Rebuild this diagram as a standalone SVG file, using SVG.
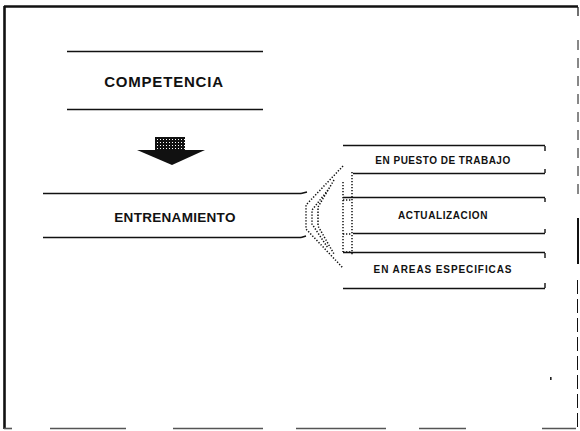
<svg xmlns="http://www.w3.org/2000/svg" width="580" height="431" viewBox="0 0 580 431">
<defs>
<pattern id="dots" width="3" height="3" patternUnits="userSpaceOnUse">
<rect width="3" height="3" fill="#111"/>
<rect x="1" y="1" width="1" height="1" fill="#fff"/>
</pattern>
<style>
.ln{stroke:#111;stroke-width:1.4;fill:none}
.fr{stroke:#111;fill:none}
.t{font-family:"Liberation Sans",Arial,sans-serif;font-weight:bold;fill:#111;text-anchor:middle}
.dot{stroke:#111;stroke-width:1.5;fill:none;stroke-dasharray:1.3 1.7}
</style>
</defs>
<rect width="580" height="431" fill="#fff"/>
<!-- frame -->
<g id="frame">
<line class="fr" x1="4" y1="6.5" x2="578" y2="6.5" stroke-width="2.4"/>
<line class="fr" x1="4.5" y1="6" x2="4.5" y2="429" stroke-width="2.6"/>
<line class="fr" x1="578" y1="7" x2="578" y2="16" stroke-width="1.2"/>
<line class="fr" x1="578" y1="40" x2="578" y2="200" stroke-width="1" stroke-dasharray="10 8"/>
<line class="fr" x1="578" y1="218" x2="578" y2="264" stroke-width="2"/>
<line class="fr" x1="577.5" y1="280" x2="577.5" y2="428" stroke-width="1" stroke-dasharray="14 5"/>
<g stroke="#555" stroke-width="1.6">
<line x1="4" y1="428.5" x2="12" y2="428.5"/>
<line x1="50" y1="428.5" x2="126" y2="428.5"/>
<line x1="173" y1="428.5" x2="263" y2="428.5"/>
<line x1="296" y1="428.5" x2="386" y2="428.5"/>
<line x1="419" y1="428.5" x2="466" y2="428.5"/>
<line x1="542" y1="428.5" x2="576" y2="428.5"/>
</g>
<rect x="550" y="377" width="1.6" height="3" fill="#222"/>
</g>
<!-- nodes -->
<g id="competencia">
<line class="ln" x1="67" y1="51.5" x2="263" y2="51.5"/>
<line class="ln" x1="67" y1="109.5" x2="263" y2="109.5"/>
<text class="t" x="164" y="87" font-size="15" letter-spacing="0.8">COMPETENCIA</text>
</g>
<g id="entrenamiento">
<line class="ln" x1="43" y1="193.5" x2="301" y2="193.5"/>
<line class="ln" x1="301" y1="193.5" x2="307" y2="192"/>
<line class="ln" x1="43" y1="237.5" x2="301" y2="237.5"/>
<line class="ln" x1="301" y1="237.5" x2="306" y2="236"/>
<text class="t" x="175" y="222" font-size="13.5" letter-spacing="0.3">ENTRENAMIENTO</text>
</g>
<g id="puesto">
<line class="ln" x1="343" y1="145.5" x2="545" y2="145.5"/>
<line class="ln" x1="353" y1="173.5" x2="545" y2="173.5"/>
<line class="ln" x1="545" y1="146" x2="545" y2="151"/>
<line class="ln" x1="545" y1="169" x2="545" y2="173"/>
<text class="t" x="443" y="164" font-size="10" letter-spacing="0.5">EN PUESTO DE TRABAJO</text>
</g>
<g id="actualizacion">
<line class="ln" x1="343" y1="197.5" x2="545" y2="197.5"/>
<line class="ln" x1="353" y1="233.5" x2="545" y2="233.5"/>
<line class="ln" x1="545" y1="198" x2="545" y2="202"/>
<line class="ln" x1="545" y1="229" x2="545" y2="233"/>
<text class="t" x="443" y="219" font-size="10" letter-spacing="0.6">ACTUALIZACION</text>
</g>
<g id="areas">
<line class="ln" x1="343" y1="252.5" x2="545" y2="252.5"/>
<line class="ln" x1="343" y1="288.5" x2="545" y2="288.5"/>
<line class="ln" x1="545" y1="253" x2="545" y2="258"/>
<line class="ln" x1="545" y1="283" x2="545" y2="288"/>
<text class="t" x="443" y="273" font-size="10" letter-spacing="0.9">EN AREAS ESPECIFICAS</text>
</g>
<!-- connectors -->
<g id="connectors">
<g id="down-arrow">
<rect x="155" y="137" width="30" height="13" fill="url(#dots)"/>
<polygon points="137,150 205,150 172,165" fill="#111"/>
</g>
<g id="branch-arrow">
<polyline class="dot" points="343,166 306,205 306,229 343,268"/>
<polyline class="dot" points="334,180 318,207 318,226 334,254"/>
<polyline class="dot" points="328,190 312,210 312,224 328,248"/>
<line class="dot" x1="343" y1="182" x2="343" y2="252"/>
<line class="dot" x1="352" y1="172" x2="352" y2="256"/>
<line class="dot" x1="343" y1="200" x2="352" y2="200"/>
<line class="dot" x1="343" y1="234" x2="352" y2="234"/>
<line class="dot" x1="343" y1="252" x2="352" y2="252"/>
</g>
</g>
</svg>
